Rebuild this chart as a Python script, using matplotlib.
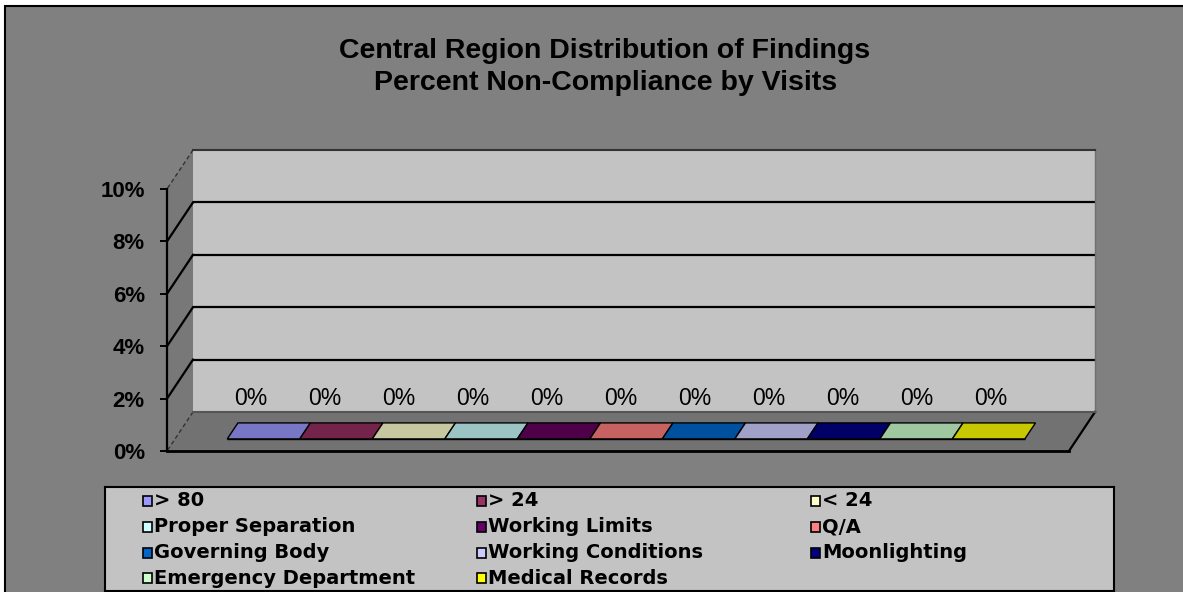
import matplotlib
matplotlib.use("Agg")
import matplotlib.pyplot as plt
from matplotlib.patches import Polygon, Rectangle
from matplotlib.transforms import offset_copy

categories = ["> 80", "> 24", "< 24", "Proper Separation", "Working Limits", "Q/A",
              "Governing Body", "Working Conditions", "Moonlighting",
              "Emergency Department", "Medical Records"]
values = [0, 0, 0, 0, 0, 0, 0, 0, 0, 0, 0]
y_ticks = [0, 2, 4, 6, 8, 10]
title_lines = ["Central Region Distribution of Findings",
               "Percent Non-Compliance by Visits"]

# bar colours as they appear in the (shaded) plot, legend swatches are brighter
bar_colors = ["#7777C6", "#74234A", "#C8C8A0", "#9CC4C4", "#4E0048", "#C66262",
              "#0050A0", "#A0A0C8", "#000066", "#A0C8A0", "#C8C800"]
legend_colors = ["#9999FF", "#993366", "#FFFFCC", "#CCFFFF", "#660066", "#FF8080",
                 "#0066CC", "#CCCCFF", "#000080", "#CCFFCC", "#FFFF00"]

W, H = 1183, 592
WALL_L, WALL_R, WALL_T, WALL_B = 193, 1095, 150, 412
DEPTH_X, DEPTH_Y = -26, 39   # pixel offset from back wall to front edge
GAP = 0.72
F_BACK, F_FRONT = 0.28, 0.69

fig = plt.figure(figsize=(W / 100, H / 100), dpi=100, facecolor="white")

# grey chart area with black frame on top / left
fig.add_artist(Rectangle((5 / W, -0.1), 1.2, (H - 6) / H + 0.1, transform=fig.transFigure,
                         facecolor="#808080", edgecolor="black", lw=1.5, zorder=-5))

ax = fig.add_axes([WALL_L / W, (H - WALL_B) / H, (WALL_R - WALL_L) / W, (WALL_B - WALL_T) / H])
ax.set_facecolor("#C3C3C3")
x0, x1 = -0.5 - GAP, len(categories) - 0.5 + GAP
ax.set_xlim(x0, x1)
ax.set_ylim(y_ticks[0], y_ticks[-1])
ax.set_xticks([])
ax.set_yticks([])
for side in ["left", "right"]:
    ax.spines[side].set_visible(False)
ax.spines["top"].set_color("#333333")
ax.spines["top"].set_linewidth(1.5)
ax.spines["bottom"].set_color("#555555")
ax.spines["bottom"].set_linewidth(1.5)
ax.plot([x1, x1], [0, y_ticks[-1]], color="#707070", lw=1, clip_on=False)

# depth vector in data units
ddx = DEPTH_X * (x1 - x0) / (WALL_R - WALL_L)
ddy = -DEPTH_Y * (y_ticks[-1] - y_ticks[0]) / (WALL_B - WALL_T)

# side wall and floor
side = Polygon([(x0, 0), (x0, y_ticks[-1]), (x0 + ddx, y_ticks[-1] + ddy), (x0 + ddx, ddy)],
               closed=True, facecolor="#787878", edgecolor="none", clip_on=False, zorder=0.5)
floor = Polygon([(x0, 0), (x1, 0), (x1 + ddx, ddy), (x0 + ddx, ddy)],
                closed=True, facecolor="#727272", edgecolor="none", clip_on=False, zorder=0.6)
ax.add_patch(side)
ax.add_patch(floor)

# gridlines on back wall and side wall
for t in y_ticks:
    if t in (y_ticks[0], y_ticks[-1]):
        ax.plot([x0, x0 + ddx], [t, t + ddy], color="#333333", lw=1, ls=(0, (3, 2)),
                clip_on=False, zorder=1)
        continue
    ax.axhline(t, color="black", lw=1.6, zorder=1)
    ax.plot([x0, x0 + ddx], [t, t + ddy], color="black", lw=1.6, clip_on=False, zorder=1)

# floor edges
ax.plot([x0 + ddx, x1 + ddx], [ddy, ddy], color="black", lw=2, clip_on=False, zorder=2)
ax.plot([x1, x1 + ddx], [0, ddy], color="black", lw=1.6, clip_on=False, zorder=2)

# bars (all values are 0, so only the top face shows)
xs = list(range(len(categories)))
ax.bar([x + F_FRONT * ddx for x in xs], values, width=1, bottom=F_FRONT * ddy,
       color=bar_colors, edgecolor="black", lw=1, clip_on=False, zorder=3)
for x, v, c in zip(xs, values, bar_colors):
    top = Polygon([(x - 0.5 + F_FRONT * ddx, v + F_FRONT * ddy),
                   (x + 0.5 + F_FRONT * ddx, v + F_FRONT * ddy),
                   (x + 0.5 + F_BACK * ddx, v + F_BACK * ddy),
                   (x - 0.5 + F_BACK * ddx, v + F_BACK * ddy)],
                  closed=True, facecolor=c, edgecolor="black", lw=1, clip_on=False, zorder=3)
    ax.add_patch(top)
    tr = offset_copy(ax.transData, fig=fig, x=-31 + 1.5 * x, y=7, units="dots")
    ax.text(x, v, f"{v:.0f}%", transform=tr, ha="center", va="baseline",
            family="Liberation Sans", fontsize=16.5, color="black", zorder=4)

# front value axis
axf = fig.add_axes([(WALL_L + DEPTH_X) / W, (H - WALL_B - DEPTH_Y) / H,
                    (WALL_R - WALL_L) / W, (WALL_B - WALL_T) / H])
axf.patch.set_visible(False)
axf.set_ylim(y_ticks[0], y_ticks[-1])
axf.set_xticks([])
for s in ["top", "right", "bottom"]:
    axf.spines[s].set_visible(False)
axf.spines["left"].set_linewidth(1.6)
axf.set_yticks(y_ticks)
axf.set_yticklabels([f"{t}%" for t in y_ticks], family="Liberation Sans",
                    fontweight="bold", fontsize=16)
axf.tick_params(axis="y", direction="out", length=5, width=1.4, pad=11)

# titles
fig.text(605 / W, 1 - 58 / H, title_lines[0], ha="center", va="baseline",
         family="Liberation Sans", fontweight="bold", fontsize=20.5)
fig.text(606 / W, 1 - 90 / H, title_lines[1], ha="center", va="baseline",
         family="Liberation Sans", fontweight="bold", fontsize=20.5)

# legend box, filled row by row in 3 columns
lax = fig.add_axes([105 / W, (H - 591) / H, (1114 - 105) / W, (591 - 487) / H])
lax.set_facecolor("#C3C3C3")
lax.set_xlim(105, 1114)
lax.set_ylim(591, 487)
lax.set_xticks([])
lax.set_yticks([])
for s in lax.spines.values():
    s.set_linewidth(1.5)
for k, (name, c) in enumerate(zip(categories, legend_colors)):
    col, row = k % 3, k // 3
    lx = 143 + 334 * col
    ly = 501 + 25.8 * row
    lax.add_patch(Rectangle((lx, ly - 5), 9, 10, facecolor=c, edgecolor="black", lw=1.2))
    lax.text(lx + 11, ly, name, ha="left", va="center", family="DejaVu Sans",
             fontweight="bold", fontsize=14)

fig.savefig("out.png", dpi=100, facecolor=fig.get_facecolor())
